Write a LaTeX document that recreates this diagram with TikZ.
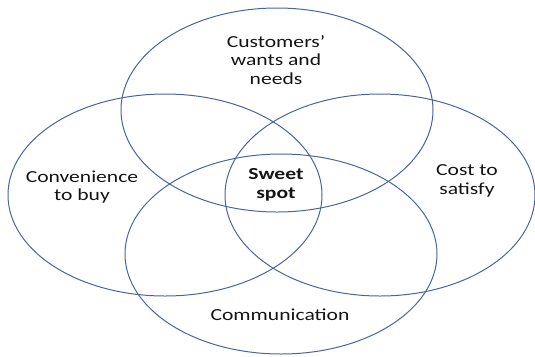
\documentclass[tikz,border=0pt]{standalone}
\usepackage{fontspec}
\setmainfont{Carlito}[FakeStretch=1.28]
\usepackage{xcolor}
\usetikzlibrary{calc}
\definecolor{ringblue}{RGB}{72,100,162}

\begin{document}
\begin{tikzpicture}[x=0.03cm,y=-0.03cm]
	\newcommand{\myfontlabel}{\fontsize{14.4}{15.8}\selectfont}
	\tikzset{ring/.style={draw=ringblue, line width=0.85pt},
		ringtext/.style={align=center, inner sep=0pt, text=black!92, font=\myfontlabel}}
	%Page frame
	\useasboundingbox (0,0) rectangle (535,356);
	%Centres of the four ellipses
	\coordinate (ctop) at (277,110);
	\coordinate (cleft) at (165,195);
	\coordinate (cright) at (380,195);
	\coordinate (cbottom) at (281,254);
	%Draw the ellipses
	\draw[ring] (ctop) ellipse [x radius=156, y radius=102];
	\draw[ring] (cleft) ellipse [x radius=157, y radius=101];
	\draw[ring] (cright) ellipse [x radius=155, y radius=101];
	\draw[ring] (cbottom) ellipse [x radius=156, y radius=100];
	%Texts in the ellipses
	\node[ringtext] (wants) at (276,60) {Customers’\\wants and\\needs};
	\node[ringtext] (convenience) at (82,187) {Convenience\\to buy};
	\node[ringtext] (cost) at (467,181) {Cost to\\satisfy};
	\node[ringtext] (communication) at (280,315) {Communication};
	%The middle
	\node[ringtext, font=\myfontlabel\bfseries] (sweet) at (276,185) {Sweet\\spot};
\end{tikzpicture}
\end{document}
